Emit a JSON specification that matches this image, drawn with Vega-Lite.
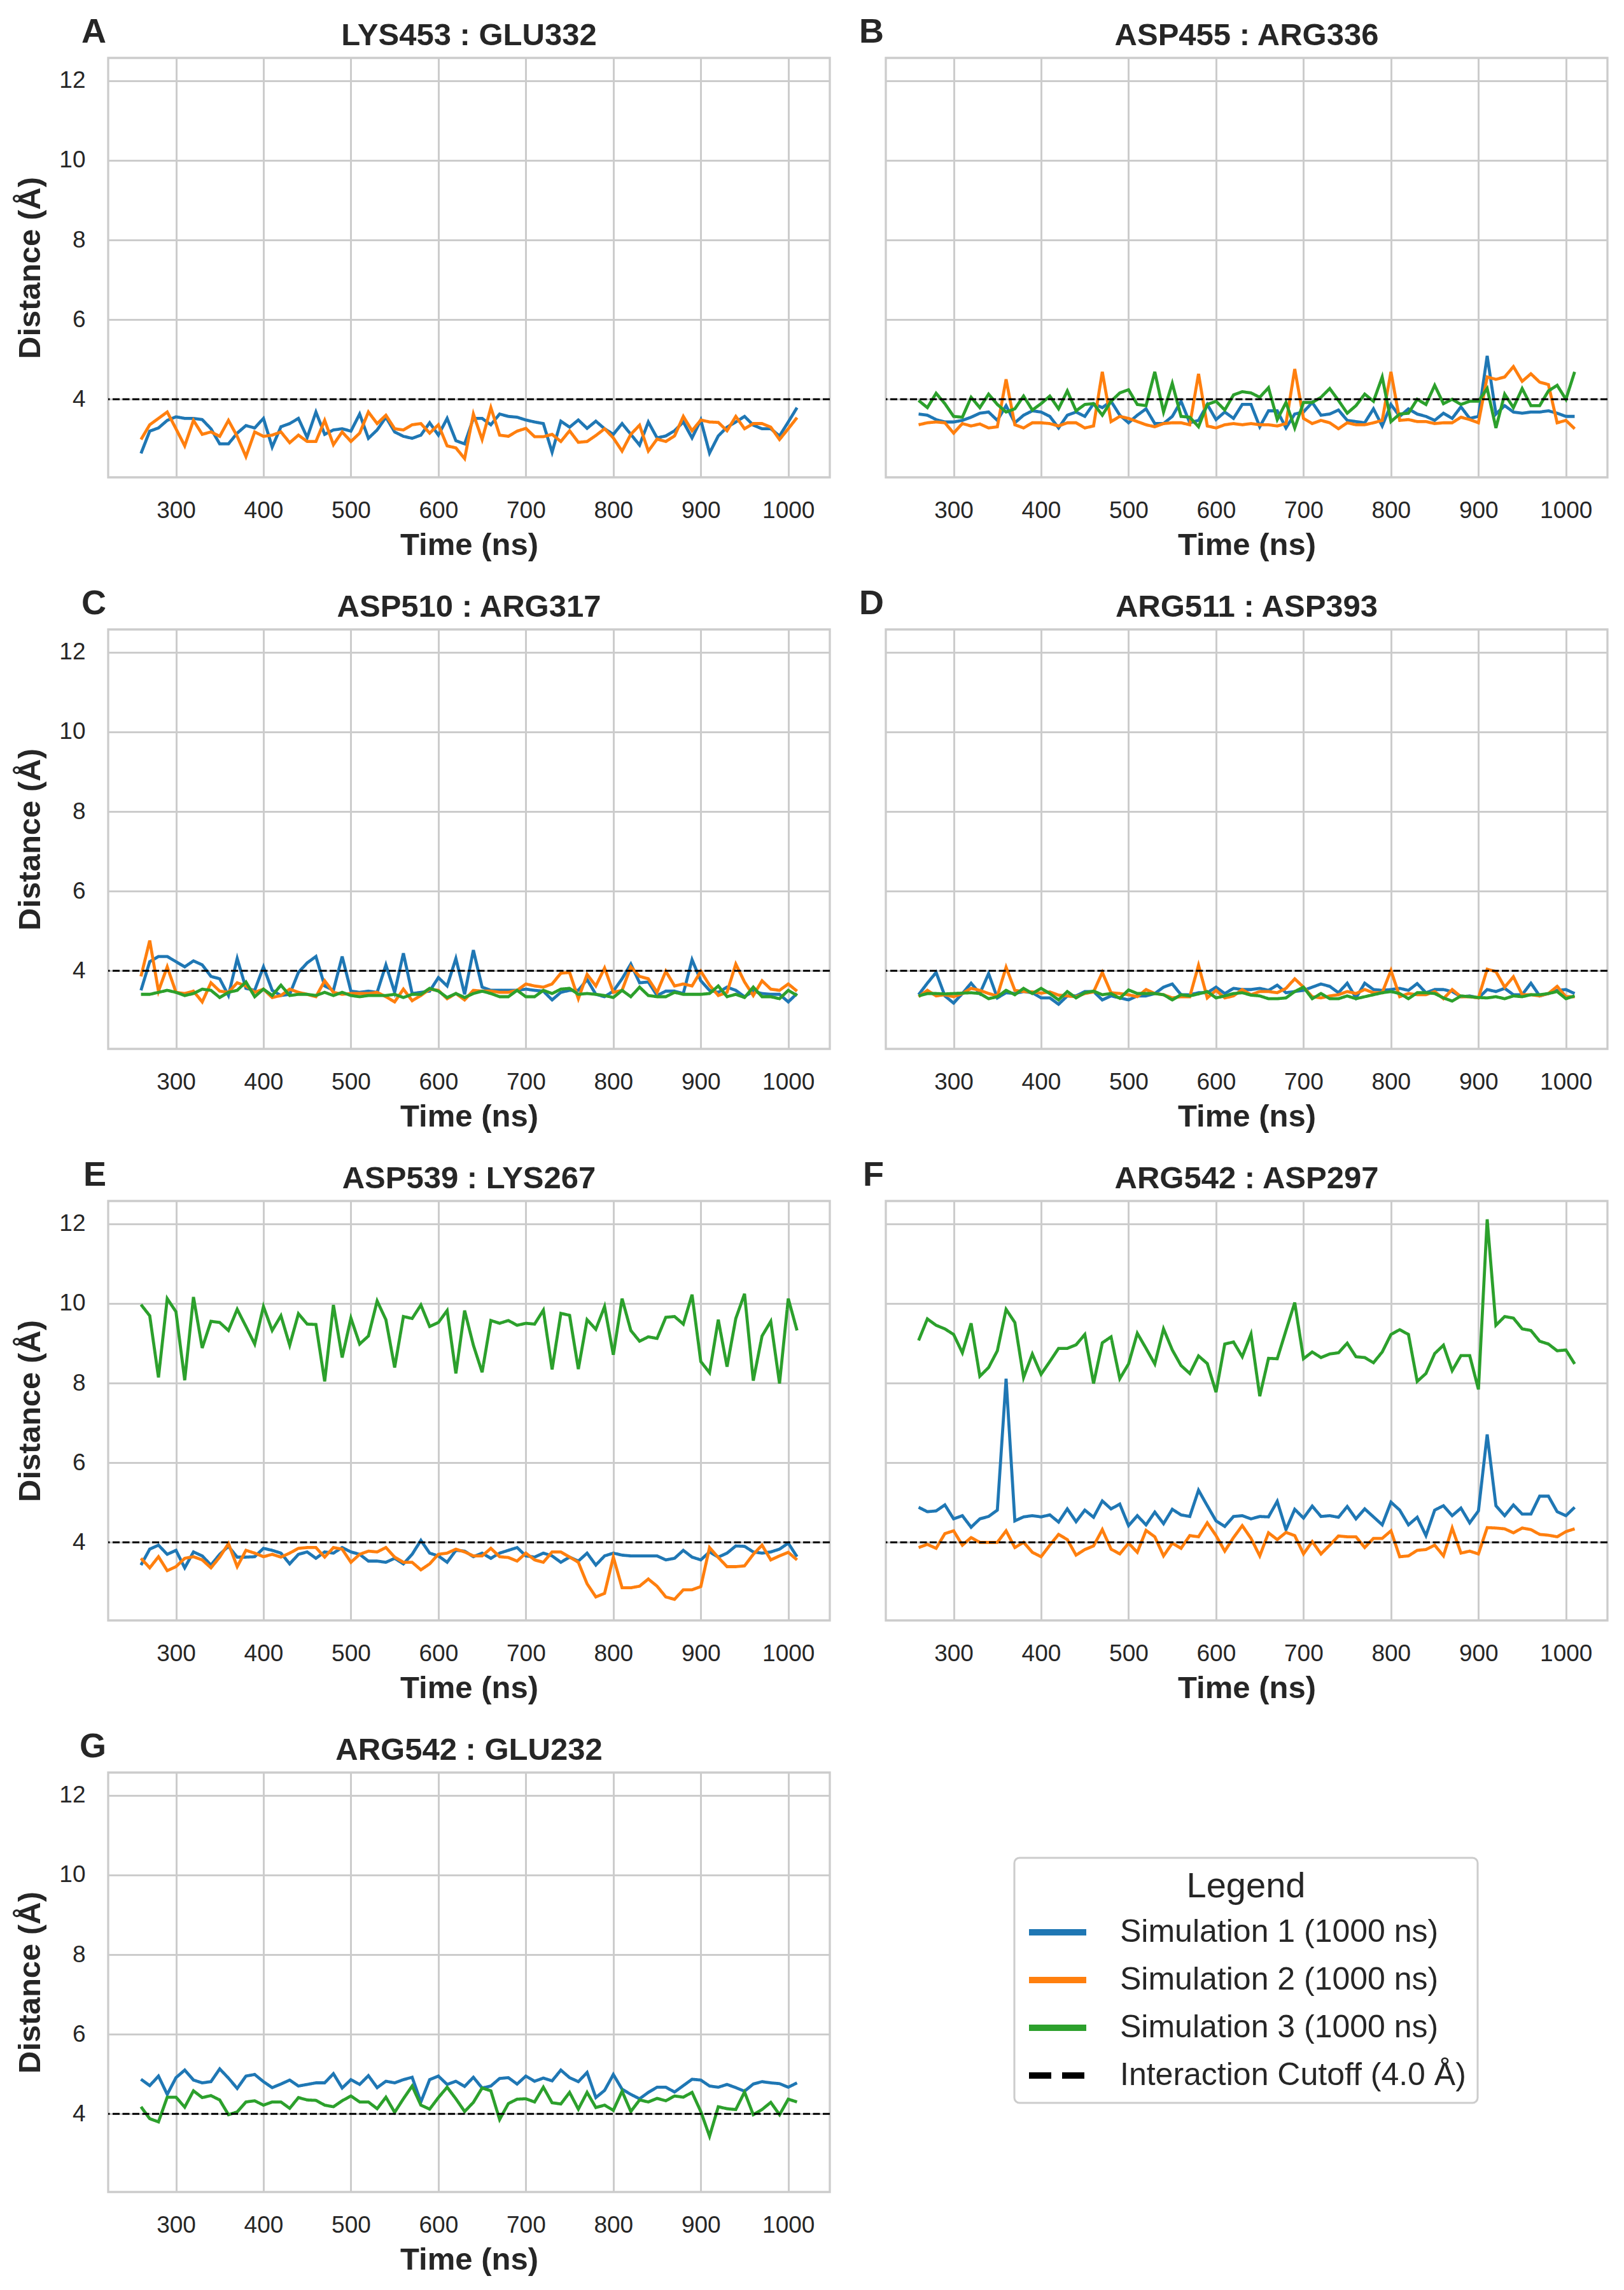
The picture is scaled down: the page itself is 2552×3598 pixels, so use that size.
{
  "$schema": "https://vega.github.io/schema/vega-lite/v6.json",
  "description": "Salt-bridge distances over time for three simulations, seven residue pairs",
  "background": "#ffffff",
  "padding": {"left": 22, "top": 22, "right": 24, "bottom": 0},
  "config": {
    "font": "Liberation Sans",
    "view": {"stroke": "#cccccc", "strokeWidth": 3.3},
    "axis": {
      "gridColor": "#cccccc", "gridWidth": 3, "domain": false, "ticks": false,
      "labelFontSize": 37, "labelColor": "#262626",
      "titleFontSize": 49, "titleFontWeight": "bold", "titleColor": "#262626"
    },
    "axisX": {"labelPadding": 34, "titlePadding": 12},
    "axisY": {"labelPadding": 36, "titlePadding": 20},
    "legend": {
      "orient": "none", "legendX": 1424, "legendY": 2828,
      "titleFontSize": 56, "titleFontWeight": "normal", "titleColor": "#262626",
      "titleAnchor": "middle", "titlePadding": -7, "titleLimit": 1000,
      "labelFontSize": 50, "labelColor": "#262626", "labelOffset": 48, "labelLimit": 1000,
      "symbolType": "stroke", "symbolSize": 8100, "symbolStrokeWidth": 10,
      "rowPadding": 0, "padding": 18,
      "fillColor": "#ffffff", "strokeColor": "#cccccc", "strokeWidth": 3, "cornerRadius": 8
    }
  },
  "data": {"values": [
    {"p":"A","t":260,"a":2.64,"b":2.99},{"p":"A","t":270,"a":3.20,"b":3.36},{"p":"A","t":280,"a":3.28,"b":3.52},{"p":"A","t":290,"a":3.47,"b":3.68},{"p":"A","t":300,"a":3.56,"b":3.26},
    {"p":"A","t":310,"a":3.52,"b":2.83},{"p":"A","t":320,"a":3.52,"b":3.47},{"p":"A","t":330,"a":3.49,"b":3.12},{"p":"A","t":340,"a":3.26,"b":3.18},{"p":"A","t":350,"a":2.88,"b":3.07},
    {"p":"A","t":360,"a":2.88,"b":3.47},{"p":"A","t":370,"a":3.15,"b":3.07},{"p":"A","t":380,"a":3.34,"b":2.56},{"p":"A","t":390,"a":3.28,"b":3.18},{"p":"A","t":400,"a":3.52,"b":3.07},
    {"p":"A","t":410,"a":2.80,"b":3.10},{"p":"A","t":420,"a":3.31,"b":3.18},{"p":"A","t":430,"a":3.39,"b":2.91},{"p":"A","t":440,"a":3.52,"b":3.10},{"p":"A","t":450,"a":3.04,"b":2.94},
    {"p":"A","t":460,"a":3.68,"b":2.94},{"p":"A","t":470,"a":3.12,"b":3.47},{"p":"A","t":480,"a":3.23,"b":2.86},{"p":"A","t":490,"a":3.26,"b":3.18},{"p":"A","t":500,"a":3.20,"b":2.94},
    {"p":"A","t":510,"a":3.63,"b":3.15},{"p":"A","t":520,"a":3.02,"b":3.68},{"p":"A","t":530,"a":3.23,"b":3.39},{"p":"A","t":540,"a":3.55,"b":3.60},{"p":"A","t":550,"a":3.18,"b":3.26},
    {"p":"A","t":560,"a":3.07,"b":3.23},{"p":"A","t":570,"a":3.02,"b":3.36},{"p":"A","t":580,"a":3.10,"b":3.39},{"p":"A","t":590,"a":3.41,"b":3.15},{"p":"A","t":600,"a":3.10,"b":3.36},
    {"p":"A","t":610,"a":3.52,"b":2.83},{"p":"A","t":620,"a":2.96,"b":2.78},{"p":"A","t":630,"a":2.88,"b":2.51},{"p":"A","t":640,"a":3.52,"b":3.63},{"p":"A","t":650,"a":3.52,"b":2.99},
    {"p":"A","t":660,"a":3.36,"b":3.79},{"p":"A","t":670,"a":3.63,"b":3.10},{"p":"A","t":680,"a":3.57,"b":3.07},{"p":"A","t":690,"a":3.55,"b":3.20},{"p":"A","t":700,"a":3.48,"b":3.27},
    {"p":"A","t":710,"a":3.43,"b":3.06},{"p":"A","t":720,"a":3.39,"b":3.06},{"p":"A","t":730,"a":2.67,"b":3.12},{"p":"A","t":740,"a":3.45,"b":2.94},{"p":"A","t":750,"a":3.30,"b":3.21},
    {"p":"A","t":760,"a":3.48,"b":2.92},{"p":"A","t":770,"a":3.27,"b":2.94},{"p":"A","t":780,"a":3.45,"b":3.09},{"p":"A","t":790,"a":3.26,"b":3.26},{"p":"A","t":800,"a":3.12,"b":3.03},
    {"p":"A","t":810,"a":3.39,"b":2.70},{"p":"A","t":820,"a":3.12,"b":3.12},{"p":"A","t":830,"a":2.85,"b":3.35},{"p":"A","t":840,"a":3.43,"b":2.70},{"p":"A","t":850,"a":3.03,"b":3.00},
    {"p":"A","t":860,"a":3.08,"b":2.94},{"p":"A","t":870,"a":3.21,"b":3.08},{"p":"A","t":880,"a":3.43,"b":3.57},{"p":"A","t":890,"a":3.03,"b":3.21},{"p":"A","t":900,"a":3.48,"b":3.48},
    {"p":"A","t":910,"a":2.65,"b":3.43},{"p":"A","t":920,"a":3.08,"b":3.42},{"p":"A","t":930,"a":3.30,"b":3.21},{"p":"A","t":940,"a":3.43,"b":3.57},{"p":"A","t":950,"a":3.57,"b":3.26},
    {"p":"A","t":960,"a":3.35,"b":3.39},{"p":"A","t":970,"a":3.26,"b":3.39},{"p":"A","t":980,"a":3.26,"b":3.30},{"p":"A","t":990,"a":3.08,"b":2.99},{"p":"A","t":1000,"a":3.43,"b":3.26},
    {"p":"A","t":1010,"a":3.79,"b":3.54},

    {"p":"B","t":260,"a":3.63,"b":3.36,"c":3.97},{"p":"B","t":270,"a":3.60,"b":3.41,"c":3.79},{"p":"B","t":280,"a":3.49,"b":3.43,"c":4.15},{"p":"B","t":290,"a":3.43,"b":3.41,"c":3.89},{"p":"B","t":300,"a":3.43,"b":3.15,"c":3.57},
    {"p":"B","t":310,"a":3.47,"b":3.39,"c":3.55},{"p":"B","t":320,"a":3.55,"b":3.33,"c":4.05},{"p":"B","t":330,"a":3.65,"b":3.38,"c":3.79},{"p":"B","t":340,"a":3.68,"b":3.28,"c":4.13},{"p":"B","t":350,"a":3.47,"b":3.31,"c":3.87},
    {"p":"B","t":360,"a":3.84,"b":4.50,"c":3.68},{"p":"B","t":370,"a":3.41,"b":3.36,"c":3.76},{"p":"B","t":380,"a":3.60,"b":3.28,"c":4.08},{"p":"B","t":390,"a":3.71,"b":3.41,"c":3.73},{"p":"B","t":400,"a":3.68,"b":3.41,"c":3.89},
    {"p":"B","t":410,"a":3.57,"b":3.39,"c":4.08},{"p":"B","t":420,"a":3.28,"b":3.33,"c":3.76},{"p":"B","t":430,"a":3.60,"b":3.41,"c":4.21},{"p":"B","t":440,"a":3.68,"b":3.41,"c":3.71},{"p":"B","t":450,"a":3.57,"b":3.28,"c":3.87},
    {"p":"B","t":460,"a":3.89,"b":3.33,"c":3.89},{"p":"B","t":470,"a":3.79,"b":4.69,"c":3.60},{"p":"B","t":480,"a":3.95,"b":3.44,"c":3.95},{"p":"B","t":490,"a":3.60,"b":3.57,"c":4.16},{"p":"B","t":500,"a":3.41,"b":3.52,"c":4.24},
    {"p":"B","t":510,"a":3.60,"b":3.44,"c":3.87},{"p":"B","t":520,"a":3.76,"b":3.36,"c":3.84},{"p":"B","t":530,"a":3.39,"b":3.31,"c":4.69},{"p":"B","t":540,"a":3.39,"b":3.39,"c":3.68},{"p":"B","t":550,"a":3.57,"b":3.41,"c":4.40},
    {"p":"B","t":560,"a":3.95,"b":3.41,"c":3.57},{"p":"B","t":570,"a":3.41,"b":3.36,"c":3.55},{"p":"B","t":580,"a":3.47,"b":4.64,"c":3.31},{"p":"B","t":590,"a":3.87,"b":3.33,"c":3.87},{"p":"B","t":600,"a":3.49,"b":3.28,"c":3.95},
    {"p":"B","t":610,"a":3.68,"b":3.36,"c":3.73},{"p":"B","t":620,"a":3.52,"b":3.39,"c":4.11},{"p":"B","t":630,"a":3.87,"b":3.36,"c":4.19},{"p":"B","t":640,"a":3.87,"b":3.39,"c":4.16},{"p":"B","t":650,"a":3.31,"b":3.36,"c":4.05},
    {"p":"B","t":660,"a":3.71,"b":3.36,"c":4.29},{"p":"B","t":670,"a":3.71,"b":3.33,"c":3.49},{"p":"B","t":680,"a":3.28,"b":3.39,"c":3.92},{"p":"B","t":690,"a":3.63,"b":4.76,"c":3.28},{"p":"B","t":700,"a":3.68,"b":3.52,"c":3.92},
    {"p":"B","t":710,"a":3.92,"b":3.39,"c":3.92},{"p":"B","t":720,"a":3.60,"b":3.47,"c":4.05},{"p":"B","t":730,"a":3.63,"b":3.41,"c":4.27},{"p":"B","t":740,"a":3.73,"b":3.26,"c":3.97},{"p":"B","t":750,"a":3.47,"b":3.41,"c":3.65},
    {"p":"B","t":760,"a":3.44,"b":3.36,"c":3.84},{"p":"B","t":770,"a":3.41,"b":3.36,"c":4.13},{"p":"B","t":780,"a":3.76,"b":3.41,"c":3.95},{"p":"B","t":790,"a":3.33,"b":3.47,"c":4.56},{"p":"B","t":800,"a":3.87,"b":4.69,"c":3.44},
    {"p":"B","t":810,"a":3.57,"b":3.47,"c":3.63},{"p":"B","t":820,"a":3.76,"b":3.49,"c":3.65},{"p":"B","t":830,"a":3.63,"b":3.44,"c":4.00},{"p":"B","t":840,"a":3.57,"b":3.44,"c":3.87},{"p":"B","t":850,"a":3.47,"b":3.39,"c":4.35},
    {"p":"B","t":860,"a":3.65,"b":3.41,"c":3.89},{"p":"B","t":870,"a":3.52,"b":3.41,"c":4.00},{"p":"B","t":880,"a":3.81,"b":3.55,"c":3.87},{"p":"B","t":890,"a":3.52,"b":3.49,"c":3.95},{"p":"B","t":900,"a":3.57,"b":3.41,"c":3.95},
    {"p":"B","t":910,"a":5.09,"b":4.56,"c":4.27},{"p":"B","t":920,"a":3.63,"b":4.50,"c":3.28},{"p":"B","t":930,"a":3.84,"b":4.56,"c":4.13},{"p":"B","t":940,"a":3.68,"b":4.82,"c":3.79},{"p":"B","t":950,"a":3.65,"b":4.45,"c":4.27},
    {"p":"B","t":960,"a":3.68,"b":4.64,"c":3.84},{"p":"B","t":970,"a":3.68,"b":4.43,"c":3.84},{"p":"B","t":980,"a":3.71,"b":4.37,"c":4.21},{"p":"B","t":990,"a":3.65,"b":3.41,"c":4.35},{"p":"B","t":1000,"a":3.57,"b":3.47,"c":4.00},
    {"p":"B","t":1010,"a":3.57,"b":3.26,"c":4.69},

    {"p":"C","t":260,"a":3.51,"b":3.86,"c":3.41},{"p":"C","t":270,"a":4.23,"b":4.76,"c":3.41},{"p":"C","t":280,"a":4.36,"b":3.49,"c":3.46},{"p":"C","t":290,"a":4.36,"b":4.10,"c":3.51},{"p":"C","t":300,"a":4.23,"b":3.46,"c":3.46},
    {"p":"C","t":310,"a":4.10,"b":3.43,"c":3.38},{"p":"C","t":320,"a":4.25,"b":3.49,"c":3.43},{"p":"C","t":330,"a":4.15,"b":3.22,"c":3.54},{"p":"C","t":340,"a":3.86,"b":3.70,"c":3.51},{"p":"C","t":350,"a":3.80,"b":3.49,"c":3.33},
    {"p":"C","t":360,"a":3.38,"b":3.46,"c":3.46},{"p":"C","t":370,"a":4.31,"b":3.70,"c":3.51},{"p":"C","t":380,"a":3.56,"b":3.62,"c":3.72},{"p":"C","t":390,"a":3.51,"b":3.46,"c":3.35},{"p":"C","t":400,"a":4.10,"b":3.54,"c":3.54},
    {"p":"C","t":410,"a":3.51,"b":3.33,"c":3.38},{"p":"C","t":420,"a":3.38,"b":3.38,"c":3.64},{"p":"C","t":430,"a":3.41,"b":3.54,"c":3.38},{"p":"C","t":440,"a":3.96,"b":3.46,"c":3.41},{"p":"C","t":450,"a":4.20,"b":3.41,"c":3.41},
    {"p":"C","t":460,"a":4.36,"b":3.35,"c":3.38},{"p":"C","t":470,"a":3.62,"b":3.75,"c":3.46},{"p":"C","t":480,"a":3.51,"b":3.46,"c":3.38},{"p":"C","t":490,"a":4.36,"b":3.41,"c":3.46},{"p":"C","t":500,"a":3.49,"b":3.43,"c":3.38},
    {"p":"C","t":510,"a":3.46,"b":3.43,"c":3.35},{"p":"C","t":520,"a":3.49,"b":3.43,"c":3.38},{"p":"C","t":530,"a":3.46,"b":3.46,"c":3.38},{"p":"C","t":540,"a":4.15,"b":3.35,"c":3.38},{"p":"C","t":550,"a":3.46,"b":3.22,"c":3.41},
    {"p":"C","t":560,"a":4.44,"b":3.54,"c":3.33},{"p":"C","t":570,"a":3.43,"b":3.25,"c":3.41},{"p":"C","t":580,"a":3.46,"b":3.38,"c":3.41},{"p":"C","t":590,"a":3.49,"b":3.54,"c":3.56},{"p":"C","t":600,"a":3.83,"b":3.51,"c":3.49},
    {"p":"C","t":610,"a":3.62,"b":3.30,"c":3.33},{"p":"C","t":620,"a":4.31,"b":3.43,"c":3.43},{"p":"C","t":630,"a":3.41,"b":3.27,"c":3.33},{"p":"C","t":640,"a":4.52,"b":3.51,"c":3.43},{"p":"C","t":650,"a":3.59,"b":3.49,"c":3.49},
    {"p":"C","t":660,"a":3.51,"b":3.49,"c":3.43},{"p":"C","t":670,"a":3.51,"b":3.46,"c":3.35},{"p":"C","t":680,"a":3.51,"b":3.46,"c":3.35},{"p":"C","t":690,"a":3.51,"b":3.51,"c":3.51},{"p":"C","t":700,"a":3.54,"b":3.67,"c":3.35},
    {"p":"C","t":710,"a":3.51,"b":3.62,"c":3.35},{"p":"C","t":720,"a":3.49,"b":3.59,"c":3.51},{"p":"C","t":730,"a":3.27,"b":3.67,"c":3.43},{"p":"C","t":740,"a":3.46,"b":3.94,"c":3.54},{"p":"C","t":750,"a":3.51,"b":3.96,"c":3.56},
    {"p":"C","t":760,"a":3.51,"b":3.30,"c":3.41},{"p":"C","t":770,"a":3.78,"b":3.91,"c":3.43},{"p":"C","t":780,"a":3.41,"b":3.62,"c":3.41},{"p":"C","t":790,"a":3.35,"b":4.07,"c":3.38},{"p":"C","t":800,"a":3.49,"b":3.46,"c":3.33},
    {"p":"C","t":810,"a":3.80,"b":3.51,"c":3.51},{"p":"C","t":820,"a":4.17,"b":4.10,"c":3.35},{"p":"C","t":830,"a":3.70,"b":3.86,"c":3.59},{"p":"C","t":840,"a":3.72,"b":3.80,"c":3.38},{"p":"C","t":850,"a":3.38,"b":3.46,"c":3.35},
    {"p":"C","t":860,"a":3.49,"b":3.99,"c":3.35},{"p":"C","t":870,"a":3.49,"b":3.62,"c":3.46},{"p":"C","t":880,"a":3.43,"b":3.67,"c":3.41},{"p":"C","t":890,"a":4.28,"b":3.62,"c":3.41},{"p":"C","t":900,"a":3.75,"b":3.99,"c":3.41},
    {"p":"C","t":910,"a":3.51,"b":3.64,"c":3.43},{"p":"C","t":920,"a":3.46,"b":3.38,"c":3.62},{"p":"C","t":930,"a":3.59,"b":3.46,"c":3.35},{"p":"C","t":940,"a":3.51,"b":4.17,"c":3.41},{"p":"C","t":950,"a":3.35,"b":3.72,"c":3.33},
    {"p":"C","t":960,"a":3.49,"b":3.38,"c":3.59},{"p":"C","t":970,"a":3.43,"b":3.75,"c":3.35},{"p":"C","t":980,"a":3.41,"b":3.54,"c":3.35},{"p":"C","t":990,"a":3.41,"b":3.51,"c":3.30},{"p":"C","t":1000,"a":3.22,"b":3.67,"c":3.51},
    {"p":"C","t":1010,"a":3.43,"b":3.49,"c":3.38},

    {"p":"D","t":260,"a":3.40,"b":3.35,"c":3.37},{"p":"D","t":270,"a":3.69,"b":3.51,"c":3.43},{"p":"D","t":280,"a":3.96,"b":3.37,"c":3.43},{"p":"D","t":290,"a":3.37,"b":3.40,"c":3.42},{"p":"D","t":300,"a":3.19,"b":3.35,"c":3.43},
    {"p":"D","t":310,"a":3.43,"b":3.43,"c":3.44},{"p":"D","t":320,"a":3.69,"b":3.56,"c":3.45},{"p":"D","t":330,"a":3.43,"b":3.51,"c":3.43},{"p":"D","t":340,"a":3.93,"b":3.43,"c":3.30},{"p":"D","t":350,"a":3.32,"b":3.37,"c":3.35},
    {"p":"D","t":360,"a":3.45,"b":4.09,"c":3.51},{"p":"D","t":370,"a":3.43,"b":3.51,"c":3.40},{"p":"D","t":380,"a":3.48,"b":3.48,"c":3.56},{"p":"D","t":390,"a":3.45,"b":3.47,"c":3.43},{"p":"D","t":400,"a":3.32,"b":3.44,"c":3.56},
    {"p":"D","t":410,"a":3.32,"b":3.47,"c":3.43},{"p":"D","t":420,"a":3.16,"b":3.39,"c":3.27},{"p":"D","t":430,"a":3.37,"b":3.37,"c":3.48},{"p":"D","t":440,"a":3.37,"b":3.35,"c":3.32},{"p":"D","t":450,"a":3.48,"b":3.43,"c":3.45},
    {"p":"D","t":460,"a":3.48,"b":3.47,"c":3.49},{"p":"D","t":470,"a":3.27,"b":3.96,"c":3.40},{"p":"D","t":480,"a":3.37,"b":3.45,"c":3.43},{"p":"D","t":490,"a":3.32,"b":3.43,"c":3.31},{"p":"D","t":500,"a":3.27,"b":3.40,"c":3.52},
    {"p":"D","t":510,"a":3.37,"b":3.35,"c":3.43},{"p":"D","t":520,"a":3.37,"b":3.53,"c":3.43},{"p":"D","t":530,"a":3.43,"b":3.43,"c":3.43},{"p":"D","t":540,"a":3.59,"b":3.40,"c":3.40},{"p":"D","t":550,"a":3.67,"b":3.32,"c":3.27},
    {"p":"D","t":560,"a":3.40,"b":3.35,"c":3.40},{"p":"D","t":570,"a":3.40,"b":3.35,"c":3.37},{"p":"D","t":580,"a":3.45,"b":4.14,"c":3.42},{"p":"D","t":590,"a":3.45,"b":3.32,"c":3.48},{"p":"D","t":600,"a":3.59,"b":3.51,"c":3.32},
    {"p":"D","t":610,"a":3.43,"b":3.32,"c":3.37},{"p":"D","t":620,"a":3.56,"b":3.37,"c":3.43},{"p":"D","t":630,"a":3.53,"b":3.53,"c":3.45},{"p":"D","t":640,"a":3.53,"b":3.40,"c":3.39},{"p":"D","t":650,"a":3.56,"b":3.48,"c":3.37},
    {"p":"D","t":660,"a":3.51,"b":3.48,"c":3.30},{"p":"D","t":670,"a":3.64,"b":3.45,"c":3.30},{"p":"D","t":680,"a":3.45,"b":3.56,"c":3.32},{"p":"D","t":690,"a":3.48,"b":3.80,"c":3.48},{"p":"D","t":700,"a":3.51,"b":3.59,"c":3.59},
    {"p":"D","t":710,"a":3.59,"b":3.35,"c":3.30},{"p":"D","t":720,"a":3.67,"b":3.32,"c":3.43},{"p":"D","t":730,"a":3.61,"b":3.37,"c":3.30},{"p":"D","t":740,"a":3.45,"b":3.40,"c":3.30},{"p":"D","t":750,"a":3.69,"b":3.48,"c":3.37},
    {"p":"D","t":760,"a":3.32,"b":3.43,"c":3.30},{"p":"D","t":770,"a":3.69,"b":3.53,"c":3.35},{"p":"D","t":780,"a":3.53,"b":3.45,"c":3.40},{"p":"D","t":790,"a":3.51,"b":3.45,"c":3.45},{"p":"D","t":800,"a":3.53,"b":4.01,"c":3.48},
    {"p":"D","t":810,"a":3.56,"b":3.35,"c":3.43},{"p":"D","t":820,"a":3.51,"b":3.43,"c":3.30},{"p":"D","t":830,"a":3.68,"b":3.40,"c":3.45},{"p":"D","t":840,"a":3.45,"b":3.40,"c":3.45},{"p":"D","t":850,"a":3.53,"b":3.48,"c":3.43},
    {"p":"D","t":860,"a":3.53,"b":3.30,"c":3.32},{"p":"D","t":870,"a":3.48,"b":3.53,"c":3.24},{"p":"D","t":880,"a":3.35,"b":3.35,"c":3.37},{"p":"D","t":890,"a":3.37,"b":3.35,"c":3.35},{"p":"D","t":900,"a":3.32,"b":3.32,"c":3.33},
    {"p":"D","t":910,"a":3.53,"b":4.04,"c":3.32},{"p":"D","t":920,"a":3.48,"b":3.98,"c":3.35},{"p":"D","t":930,"a":3.56,"b":3.59,"c":3.30},{"p":"D","t":940,"a":3.40,"b":3.85,"c":3.37},{"p":"D","t":950,"a":3.40,"b":3.40,"c":3.35},
    {"p":"D","t":960,"a":3.69,"b":3.40,"c":3.40},{"p":"D","t":970,"a":3.37,"b":3.37,"c":3.40},{"p":"D","t":980,"a":3.43,"b":3.43,"c":3.43},{"p":"D","t":990,"a":3.51,"b":3.61,"c":3.48},{"p":"D","t":1000,"a":3.53,"b":3.35,"c":3.30},
    {"p":"D","t":1010,"a":3.43,"b":3.35,"c":3.37},

    {"p":"E","t":260,"a":3.43,"b":3.60,"c":9.97},{"p":"E","t":270,"a":3.83,"b":3.36,"c":9.69},{"p":"E","t":280,"a":3.93,"b":3.64,"c":8.14},{"p":"E","t":290,"a":3.70,"b":3.29,"c":10.12},{"p":"E","t":300,"a":3.80,"b":3.39,"c":9.79},
    {"p":"E","t":310,"a":3.36,"b":3.60,"c":8.07},{"p":"E","t":320,"a":3.76,"b":3.64,"c":10.16},{"p":"E","t":330,"a":3.66,"b":3.56,"c":8.88},{"p":"E","t":340,"a":3.43,"b":3.36,"c":9.55},{"p":"E","t":350,"a":3.70,"b":3.63,"c":9.52},
    {"p":"E","t":360,"a":3.90,"b":3.97,"c":9.32},{"p":"E","t":370,"a":3.63,"b":3.39,"c":9.85},{"p":"E","t":380,"a":3.63,"b":3.80,"c":9.42},{"p":"E","t":390,"a":3.64,"b":3.73,"c":8.98},{"p":"E","t":400,"a":3.85,"b":3.64,"c":9.92},
    {"p":"E","t":410,"a":3.80,"b":3.70,"c":9.32},{"p":"E","t":420,"a":3.73,"b":3.63,"c":9.69},{"p":"E","t":430,"a":3.46,"b":3.73,"c":8.95},{"p":"E","t":440,"a":3.70,"b":3.85,"c":9.74},{"p":"E","t":450,"a":3.76,"b":3.87,"c":9.48},
    {"p":"E","t":460,"a":3.60,"b":3.87,"c":9.47},{"p":"E","t":470,"a":3.76,"b":3.63,"c":8.04},{"p":"E","t":480,"a":3.73,"b":3.87,"c":9.96},{"p":"E","t":490,"a":3.87,"b":3.83,"c":8.64},{"p":"E","t":500,"a":3.76,"b":3.50,"c":9.63},
    {"p":"E","t":510,"a":3.70,"b":3.70,"c":8.98},{"p":"E","t":520,"a":3.53,"b":3.78,"c":9.18},{"p":"E","t":530,"a":3.53,"b":3.76,"c":10.06},{"p":"E","t":540,"a":3.50,"b":3.87,"c":9.59},{"p":"E","t":550,"a":3.60,"b":3.63,"c":8.39},
    {"p":"E","t":560,"a":3.46,"b":3.50,"c":9.67},{"p":"E","t":570,"a":3.70,"b":3.50,"c":9.62},{"p":"E","t":580,"a":4.05,"b":3.31,"c":9.96},{"p":"E","t":590,"a":3.73,"b":3.46,"c":9.42},{"p":"E","t":600,"a":3.66,"b":3.70,"c":9.52},
    {"p":"E","t":610,"a":3.50,"b":3.73,"c":9.82},{"p":"E","t":620,"a":3.80,"b":3.83,"c":8.24},{"p":"E","t":630,"a":3.78,"b":3.76,"c":9.82},{"p":"E","t":640,"a":3.64,"b":3.66,"c":8.95},{"p":"E","t":650,"a":3.73,"b":3.66,"c":8.27},
    {"p":"E","t":660,"a":3.60,"b":3.85,"c":9.57},{"p":"E","t":670,"a":3.73,"b":3.64,"c":9.50},{"p":"E","t":680,"a":3.80,"b":3.62,"c":9.57},{"p":"E","t":690,"a":3.87,"b":3.53,"c":9.45},{"p":"E","t":700,"a":3.66,"b":3.73,"c":9.50},
    {"p":"E","t":710,"a":3.63,"b":3.56,"c":9.48},{"p":"E","t":720,"a":3.73,"b":3.50,"c":9.83},{"p":"E","t":730,"a":3.66,"b":3.76,"c":8.34},{"p":"E","t":740,"a":3.50,"b":3.76,"c":9.75},{"p":"E","t":750,"a":3.63,"b":3.63,"c":9.70},
    {"p":"E","t":760,"a":3.53,"b":3.50,"c":8.35},{"p":"E","t":770,"a":3.73,"b":2.96,"c":9.59},{"p":"E","t":780,"a":3.43,"b":2.63,"c":9.35},{"p":"E","t":790,"a":3.66,"b":2.72,"c":9.92},{"p":"E","t":800,"a":3.73,"b":3.63,"c":8.71},
    {"p":"E","t":810,"a":3.68,"b":2.86,"c":10.12},{"p":"E","t":820,"a":3.66,"b":2.86,"c":9.32},{"p":"E","t":830,"a":3.66,"b":2.90,"c":9.05},{"p":"E","t":840,"a":3.66,"b":3.08,"c":9.16},{"p":"E","t":850,"a":3.66,"b":2.90,"c":9.12},
    {"p":"E","t":860,"a":3.56,"b":2.63,"c":9.65},{"p":"E","t":870,"a":3.60,"b":2.57,"c":9.67},{"p":"E","t":880,"a":3.80,"b":2.81,"c":9.48},{"p":"E","t":890,"a":3.63,"b":2.81,"c":10.22},{"p":"E","t":900,"a":3.56,"b":2.89,"c":8.54},
    {"p":"E","t":910,"a":3.76,"b":3.87,"c":8.26},{"p":"E","t":920,"a":3.63,"b":3.62,"c":9.59},{"p":"E","t":930,"a":3.73,"b":3.39,"c":8.41},{"p":"E","t":940,"a":3.91,"b":3.39,"c":9.62},{"p":"E","t":950,"a":3.90,"b":3.41,"c":10.24},
    {"p":"E","t":960,"a":3.76,"b":3.70,"c":8.06},{"p":"E","t":970,"a":3.73,"b":3.93,"c":9.18},{"p":"E","t":980,"a":3.76,"b":3.56,"c":9.55},{"p":"E","t":990,"a":3.83,"b":3.66,"c":7.99},{"p":"E","t":1000,"a":3.98,"b":3.75,"c":10.12},
    {"p":"E","t":1010,"a":3.64,"b":3.56,"c":9.32},

    {"p":"F","t":260,"a":4.88,"b":3.87,"c":9.07},{"p":"F","t":270,"a":4.77,"b":3.95,"c":9.61},{"p":"F","t":280,"a":4.79,"b":3.85,"c":9.45},{"p":"F","t":290,"a":4.94,"b":4.22,"c":9.36},{"p":"F","t":300,"a":4.59,"b":4.29,"c":9.22},
    {"p":"F","t":310,"a":4.67,"b":3.93,"c":8.76},{"p":"F","t":320,"a":4.38,"b":4.12,"c":9.50},{"p":"F","t":330,"a":4.59,"b":4.00,"c":8.17},{"p":"F","t":340,"a":4.65,"b":4.00,"c":8.39},{"p":"F","t":350,"a":4.81,"b":4.00,"c":8.81},
    {"p":"F","t":360,"a":8.11,"b":4.29,"c":9.85},{"p":"F","t":370,"a":4.54,"b":3.87,"c":9.52},{"p":"F","t":380,"a":4.64,"b":4.00,"c":8.14},{"p":"F","t":390,"a":4.67,"b":3.75,"c":8.73},{"p":"F","t":400,"a":4.64,"b":3.64,"c":8.22},
    {"p":"F","t":410,"a":4.69,"b":3.93,"c":8.54},{"p":"F","t":420,"a":4.51,"b":4.20,"c":8.87},{"p":"F","t":430,"a":4.84,"b":4.07,"c":8.87},{"p":"F","t":440,"a":4.52,"b":3.68,"c":8.96},{"p":"F","t":450,"a":4.81,"b":3.82,"c":9.22},
    {"p":"F","t":460,"a":4.63,"b":3.91,"c":7.99},{"p":"F","t":470,"a":5.04,"b":4.32,"c":9.01},{"p":"F","t":480,"a":4.84,"b":3.83,"c":9.16},{"p":"F","t":490,"a":4.96,"b":3.71,"c":8.11},{"p":"F","t":500,"a":4.42,"b":3.98,"c":8.48},
    {"p":"F","t":510,"a":4.67,"b":3.75,"c":9.25},{"p":"F","t":520,"a":4.44,"b":4.30,"c":8.87},{"p":"F","t":530,"a":4.76,"b":4.14,"c":8.48},{"p":"F","t":540,"a":4.47,"b":3.66,"c":9.36},{"p":"F","t":550,"a":4.83,"b":3.98,"c":8.83},
    {"p":"F","t":560,"a":4.69,"b":3.85,"c":8.44},{"p":"F","t":570,"a":4.65,"b":4.17,"c":8.24},{"p":"F","t":580,"a":5.31,"b":4.14,"c":8.68},{"p":"F","t":590,"a":4.92,"b":4.49,"c":8.49},{"p":"F","t":600,"a":4.54,"b":4.17,"c":7.77},
    {"p":"F","t":610,"a":4.40,"b":3.78,"c":8.98},{"p":"F","t":620,"a":4.65,"b":4.12,"c":9.03},{"p":"F","t":630,"a":4.67,"b":4.42,"c":8.66},{"p":"F","t":640,"a":4.59,"b":4.10,"c":9.23},{"p":"F","t":650,"a":4.65,"b":3.66,"c":7.67},
    {"p":"F","t":660,"a":4.64,"b":4.24,"c":8.62},{"p":"F","t":670,"a":5.03,"b":4.07,"c":8.61},{"p":"F","t":680,"a":4.32,"b":4.25,"c":9.32},{"p":"F","t":690,"a":4.83,"b":4.17,"c":10.02},{"p":"F","t":700,"a":4.61,"b":3.71,"c":8.61},
    {"p":"F","t":710,"a":4.91,"b":4.02,"c":8.78},{"p":"F","t":720,"a":4.65,"b":3.71,"c":8.64},{"p":"F","t":730,"a":4.67,"b":3.93,"c":8.73},{"p":"F","t":740,"a":4.63,"b":4.16,"c":8.76},{"p":"F","t":750,"a":4.90,"b":4.14,"c":9.00},
    {"p":"F","t":760,"a":4.59,"b":4.14,"c":8.66},{"p":"F","t":770,"a":4.84,"b":3.87,"c":8.64},{"p":"F","t":780,"a":4.64,"b":4.10,"c":8.51},{"p":"F","t":790,"a":4.44,"b":4.10,"c":8.78},{"p":"F","t":800,"a":5.01,"b":4.29,"c":9.22},
    {"p":"F","t":810,"a":4.81,"b":3.64,"c":9.34},{"p":"F","t":820,"a":4.44,"b":3.66,"c":9.22},{"p":"F","t":830,"a":4.63,"b":3.80,"c":8.04},{"p":"F","t":840,"a":4.17,"b":3.82,"c":8.24},{"p":"F","t":850,"a":4.81,"b":3.93,"c":8.74},
    {"p":"F","t":860,"a":4.92,"b":3.66,"c":8.95},{"p":"F","t":870,"a":4.67,"b":4.36,"c":8.31},{"p":"F","t":880,"a":4.86,"b":3.73,"c":8.69},{"p":"F","t":890,"a":4.49,"b":3.78,"c":8.69},{"p":"F","t":900,"a":4.79,"b":3.71,"c":7.84},
    {"p":"F","t":910,"a":6.71,"b":4.37,"c":12.11},{"p":"F","t":920,"a":4.92,"b":4.36,"c":9.45},{"p":"F","t":930,"a":4.67,"b":4.34,"c":9.67},{"p":"F","t":940,"a":4.94,"b":4.24,"c":9.63},{"p":"F","t":950,"a":4.71,"b":4.36,"c":9.36},
    {"p":"F","t":960,"a":4.71,"b":4.32,"c":9.32},{"p":"F","t":970,"a":5.16,"b":4.20,"c":9.05},{"p":"F","t":980,"a":5.16,"b":4.18,"c":8.98},{"p":"F","t":990,"a":4.77,"b":4.14,"c":8.81},{"p":"F","t":1000,"a":4.67,"b":4.27,"c":8.83},
    {"p":"F","t":1010,"a":4.88,"b":4.34,"c":8.48},

    {"p":"G","t":260,"a":4.87,"c":4.18},{"p":"G","t":270,"a":4.71,"c":3.88},{"p":"G","t":280,"a":4.95,"c":3.80},{"p":"G","t":290,"a":4.49,"c":4.42},{"p":"G","t":300,"a":4.91,"c":4.42},
    {"p":"G","t":310,"a":5.10,"c":4.17},{"p":"G","t":320,"a":4.85,"c":4.58},{"p":"G","t":330,"a":4.78,"c":4.41},{"p":"G","t":340,"a":4.81,"c":4.46},{"p":"G","t":350,"a":5.13,"c":4.35},
    {"p":"G","t":360,"a":4.90,"c":3.98},{"p":"G","t":370,"a":4.64,"c":4.05},{"p":"G","t":380,"a":4.95,"c":4.30},{"p":"G","t":390,"a":4.99,"c":4.33},{"p":"G","t":400,"a":4.81,"c":4.22},
    {"p":"G","t":410,"a":4.66,"c":4.30},{"p":"G","t":420,"a":4.75,"c":4.30},{"p":"G","t":430,"a":4.85,"c":4.14},{"p":"G","t":440,"a":4.70,"c":4.41},{"p":"G","t":450,"a":4.74,"c":4.35},
    {"p":"G","t":460,"a":4.78,"c":4.34},{"p":"G","t":470,"a":4.78,"c":4.22},{"p":"G","t":480,"a":5.01,"c":4.18},{"p":"G","t":490,"a":4.65,"c":4.33},{"p":"G","t":500,"a":4.86,"c":4.45},
    {"p":"G","t":510,"a":4.74,"c":4.30},{"p":"G","t":520,"a":4.96,"c":4.30},{"p":"G","t":530,"a":4.66,"c":4.13},{"p":"G","t":540,"a":4.82,"c":4.42},{"p":"G","t":550,"a":4.78,"c":4.04},
    {"p":"G","t":560,"a":4.86,"c":4.38},{"p":"G","t":570,"a":4.92,"c":4.70},{"p":"G","t":580,"a":4.30,"c":4.22},{"p":"G","t":590,"a":4.86,"c":4.12},{"p":"G","t":600,"a":4.95,"c":4.41},
    {"p":"G","t":610,"a":4.74,"c":4.67},{"p":"G","t":620,"a":4.82,"c":4.38},{"p":"G","t":630,"a":4.69,"c":4.06},{"p":"G","t":640,"a":4.92,"c":4.29},{"p":"G","t":650,"a":4.65,"c":4.65},
    {"p":"G","t":660,"a":4.70,"c":4.58},{"p":"G","t":670,"a":4.89,"c":3.86},{"p":"G","t":680,"a":4.91,"c":4.26},{"p":"G","t":690,"a":4.75,"c":4.37},{"p":"G","t":700,"a":4.95,"c":4.38},
    {"p":"G","t":710,"a":4.82,"c":4.30},{"p":"G","t":720,"a":4.90,"c":4.67},{"p":"G","t":730,"a":4.83,"c":4.28},{"p":"G","t":740,"a":5.10,"c":4.25},{"p":"G","t":750,"a":4.91,"c":4.54},
    {"p":"G","t":760,"a":4.81,"c":4.12},{"p":"G","t":770,"a":5.04,"c":4.54},{"p":"G","t":780,"a":4.41,"c":4.16},{"p":"G","t":790,"a":4.59,"c":4.22},{"p":"G","t":800,"a":4.99,"c":4.09},
    {"p":"G","t":810,"a":4.62,"c":4.57},{"p":"G","t":820,"a":4.49,"c":4.06},{"p":"G","t":830,"a":4.38,"c":4.35},{"p":"G","t":840,"a":4.54,"c":4.30},{"p":"G","t":850,"a":4.67,"c":4.39},
    {"p":"G","t":860,"a":4.67,"c":4.33},{"p":"G","t":870,"a":4.55,"c":4.45},{"p":"G","t":880,"a":4.71,"c":4.42},{"p":"G","t":890,"a":4.87,"c":4.54},{"p":"G","t":900,"a":4.85,"c":4.06},
    {"p":"G","t":910,"a":4.70,"c":3.44},{"p":"G","t":920,"a":4.67,"c":4.18},{"p":"G","t":930,"a":4.74,"c":4.13},{"p":"G","t":940,"a":4.66,"c":4.11},{"p":"G","t":950,"a":4.57,"c":4.55},
    {"p":"G","t":960,"a":4.75,"c":3.98},{"p":"G","t":970,"a":4.81,"c":4.11},{"p":"G","t":980,"a":4.78,"c":4.29},{"p":"G","t":990,"a":4.76,"c":3.98},{"p":"G","t":1000,"a":4.67,"c":4.37},
    {"p":"G","t":1010,"a":4.78,"c":4.30}
  ]},
  "transform": [
    {"fold": ["a", "b", "c"], "as": ["k", "d"]},
    {"lookup": "k", "from": {"data": {"values": [
      {"k": "a", "lab": "Simulation 1 (1000 ns)"},
      {"k": "b", "lab": "Simulation 2 (1000 ns)"},
      {"k": "c", "lab": "Simulation 3 (1000 ns)"}
    ]}, "key": "k", "fields": ["lab"]}}
  ],
  "columns": 2,
  "spacing": {"row": 239, "column": 88},
  "bounds": "flush",
  "concat": [
    {
      "width": 1134, "height": 659,
      "layer": [
        {
          "transform": [{"filter": "datum.p == 'A'"}],
          "mark": "line",
          "encoding": {
            "x": {"field": "t", "type": "quantitative", "title": "Time (ns)", "scale": {"domain": [222.5, 1047.5], "nice": false, "zero": false}, "axis": {"values": [300, 400, 500, 600, 700, 800, 900, 1000], "format": "d"}},
            "y": {"field": "d", "type": "quantitative", "title": "Distance (Å)", "scale": {"domain": [2.04, 12.57], "nice": false, "zero": false}, "axis": {"values": [4, 6, 8, 10, 12], "format": "d"}},
            "color": {
              "field": "lab", "type": "nominal", "title": "Legend",
              "scale": {"domain": ["Simulation 1 (1000 ns)", "Simulation 2 (1000 ns)", "Simulation 3 (1000 ns)", "Interaction Cutoff (4.0 Å)"], "range": ["#1f77b4", "#ff7f0e", "#2ca02c", "#000000"]}
            },
            "strokeDash": {
              "field": "lab", "type": "nominal", "title": "Legend",
              "scale": {"domain": ["Simulation 1 (1000 ns)", "Simulation 2 (1000 ns)", "Simulation 3 (1000 ns)", "Interaction Cutoff (4.0 Å)"], "range": [[1, 0], [1, 0], [1, 0], [35, 17]]}
            },
            "strokeWidth": {"value": 4.8}
          }
        },
        {
          "data": {"values": [{"lab": "Interaction Cutoff (4.0 Å)", "d": 4}]},
          "mark": "rule",
          "encoding": {
            "y": {"field": "d", "type": "quantitative", "title": "Distance (Å)"},
            "color": {"field": "lab", "type": "nominal", "title": "Legend"},
            "strokeDash": {"value": [11, 4.5]},
            "strokeWidth": {"value": 3}
          }
        },
        {
          "data": {"values": [{"tag": "A", "pair": "LYS453 : GLU332"}]},
          "layer": [
            {"mark": {"type": "text", "fontSize": 54, "fontWeight": "bold", "align": "right", "baseline": "alphabetic", "dx": -3, "dy": -24, "color": "#262626"},
             "encoding": {"x": {"datum": 222.5}, "y": {"datum": 12.57}, "text": {"field": "tag"}}},
            {"mark": {"type": "text", "fontSize": 49, "fontWeight": "bold", "align": "center", "baseline": "alphabetic", "dy": -20, "color": "#262626"},
             "encoding": {"x": {"datum": 635}, "y": {"datum": 12.57}, "text": {"field": "pair"}}}
          ]
        }
      ]
    },
    {
      "width": 1134, "height": 659,
      "layer": [
        {
          "transform": [{"filter": "datum.p == 'B'"}],
          "mark": "line",
          "encoding": {
            "x": {"field": "t", "type": "quantitative", "title": "Time (ns)", "scale": {"domain": [222.5, 1047.5], "nice": false, "zero": false}, "axis": {"values": [300, 400, 500, 600, 700, 800, 900, 1000], "format": "d"}},
            "y": {"field": "d", "type": "quantitative", "scale": {"domain": [2.04, 12.57], "nice": false, "zero": false}, "axis": {"values": [4, 6, 8, 10, 12], "labels": false, "title": null}},
            "color": {"field": "lab", "type": "nominal", "title": "Legend"},
            "strokeDash": {"field": "lab", "type": "nominal", "title": "Legend"},
            "strokeWidth": {"value": 4.8}
          }
        },
        {
          "data": {"values": [{"lab": "Interaction Cutoff (4.0 Å)", "d": 4}]},
          "mark": "rule",
          "encoding": {
            "y": {"field": "d", "type": "quantitative", "axis": {"values": [4, 6, 8, 10, 12], "labels": false, "title": null}},
            "color": {"field": "lab", "type": "nominal", "title": "Legend"},
            "strokeDash": {"value": [11, 4.5]},
            "strokeWidth": {"value": 3}
          }
        },
        {
          "data": {"values": [{"tag": "B", "pair": "ASP455 : ARG336"}]},
          "layer": [
            {"mark": {"type": "text", "fontSize": 54, "fontWeight": "bold", "align": "right", "baseline": "alphabetic", "dx": -3, "dy": -24, "color": "#262626"},
             "encoding": {"x": {"datum": 222.5}, "y": {"datum": 12.57}, "text": {"field": "tag"}}},
            {"mark": {"type": "text", "fontSize": 49, "fontWeight": "bold", "align": "center", "baseline": "alphabetic", "dy": -20, "color": "#262626"},
             "encoding": {"x": {"datum": 635}, "y": {"datum": 12.57}, "text": {"field": "pair"}}}
          ]
        }
      ]
    },
    {
      "width": 1134, "height": 659,
      "layer": [
        {
          "transform": [{"filter": "datum.p == 'C'"}],
          "mark": "line",
          "encoding": {
            "x": {"field": "t", "type": "quantitative", "title": "Time (ns)", "scale": {"domain": [222.5, 1047.5], "nice": false, "zero": false}, "axis": {"values": [300, 400, 500, 600, 700, 800, 900, 1000], "format": "d"}},
            "y": {"field": "d", "type": "quantitative", "title": "Distance (Å)", "scale": {"domain": [2.04, 12.57], "nice": false, "zero": false}, "axis": {"values": [4, 6, 8, 10, 12], "format": "d"}},
            "color": {"field": "lab", "type": "nominal", "title": "Legend"},
            "strokeDash": {"field": "lab", "type": "nominal", "title": "Legend"},
            "strokeWidth": {"value": 4.8}
          }
        },
        {
          "data": {"values": [{"lab": "Interaction Cutoff (4.0 Å)", "d": 4}]},
          "mark": "rule",
          "encoding": {
            "y": {"field": "d", "type": "quantitative", "title": "Distance (Å)"},
            "color": {"field": "lab", "type": "nominal", "title": "Legend"},
            "strokeDash": {"value": [11, 4.5]},
            "strokeWidth": {"value": 3}
          }
        },
        {
          "data": {"values": [{"tag": "C", "pair": "ASP510 : ARG317"}]},
          "layer": [
            {"mark": {"type": "text", "fontSize": 54, "fontWeight": "bold", "align": "right", "baseline": "alphabetic", "dx": -3, "dy": -24, "color": "#262626"},
             "encoding": {"x": {"datum": 222.5}, "y": {"datum": 12.57}, "text": {"field": "tag"}}},
            {"mark": {"type": "text", "fontSize": 49, "fontWeight": "bold", "align": "center", "baseline": "alphabetic", "dy": -20, "color": "#262626"},
             "encoding": {"x": {"datum": 635}, "y": {"datum": 12.57}, "text": {"field": "pair"}}}
          ]
        }
      ]
    },
    {
      "width": 1134, "height": 659,
      "layer": [
        {
          "transform": [{"filter": "datum.p == 'D'"}],
          "mark": "line",
          "encoding": {
            "x": {"field": "t", "type": "quantitative", "title": "Time (ns)", "scale": {"domain": [222.5, 1047.5], "nice": false, "zero": false}, "axis": {"values": [300, 400, 500, 600, 700, 800, 900, 1000], "format": "d"}},
            "y": {"field": "d", "type": "quantitative", "scale": {"domain": [2.04, 12.57], "nice": false, "zero": false}, "axis": {"values": [4, 6, 8, 10, 12], "labels": false, "title": null}},
            "color": {"field": "lab", "type": "nominal", "title": "Legend"},
            "strokeDash": {"field": "lab", "type": "nominal", "title": "Legend"},
            "strokeWidth": {"value": 4.8}
          }
        },
        {
          "data": {"values": [{"lab": "Interaction Cutoff (4.0 Å)", "d": 4}]},
          "mark": "rule",
          "encoding": {
            "y": {"field": "d", "type": "quantitative", "axis": {"values": [4, 6, 8, 10, 12], "labels": false, "title": null}},
            "color": {"field": "lab", "type": "nominal", "title": "Legend"},
            "strokeDash": {"value": [11, 4.5]},
            "strokeWidth": {"value": 3}
          }
        },
        {
          "data": {"values": [{"tag": "D", "pair": "ARG511 : ASP393"}]},
          "layer": [
            {"mark": {"type": "text", "fontSize": 54, "fontWeight": "bold", "align": "right", "baseline": "alphabetic", "dx": -3, "dy": -24, "color": "#262626"},
             "encoding": {"x": {"datum": 222.5}, "y": {"datum": 12.57}, "text": {"field": "tag"}}},
            {"mark": {"type": "text", "fontSize": 49, "fontWeight": "bold", "align": "center", "baseline": "alphabetic", "dy": -20, "color": "#262626"},
             "encoding": {"x": {"datum": 635}, "y": {"datum": 12.57}, "text": {"field": "pair"}}}
          ]
        }
      ]
    },
    {
      "width": 1134, "height": 659,
      "layer": [
        {
          "transform": [{"filter": "datum.p == 'E'"}],
          "mark": "line",
          "encoding": {
            "x": {"field": "t", "type": "quantitative", "title": "Time (ns)", "scale": {"domain": [222.5, 1047.5], "nice": false, "zero": false}, "axis": {"values": [300, 400, 500, 600, 700, 800, 900, 1000], "format": "d"}},
            "y": {"field": "d", "type": "quantitative", "title": "Distance (Å)", "scale": {"domain": [2.04, 12.57], "nice": false, "zero": false}, "axis": {"values": [4, 6, 8, 10, 12], "format": "d"}},
            "color": {"field": "lab", "type": "nominal", "title": "Legend"},
            "strokeDash": {"field": "lab", "type": "nominal", "title": "Legend"},
            "strokeWidth": {"value": 4.8}
          }
        },
        {
          "data": {"values": [{"lab": "Interaction Cutoff (4.0 Å)", "d": 4}]},
          "mark": "rule",
          "encoding": {
            "y": {"field": "d", "type": "quantitative", "title": "Distance (Å)"},
            "color": {"field": "lab", "type": "nominal", "title": "Legend"},
            "strokeDash": {"value": [11, 4.5]},
            "strokeWidth": {"value": 3}
          }
        },
        {
          "data": {"values": [{"tag": "E", "pair": "ASP539 : LYS267"}]},
          "layer": [
            {"mark": {"type": "text", "fontSize": 54, "fontWeight": "bold", "align": "right", "baseline": "alphabetic", "dx": -3, "dy": -24, "color": "#262626"},
             "encoding": {"x": {"datum": 222.5}, "y": {"datum": 12.57}, "text": {"field": "tag"}}},
            {"mark": {"type": "text", "fontSize": 49, "fontWeight": "bold", "align": "center", "baseline": "alphabetic", "dy": -20, "color": "#262626"},
             "encoding": {"x": {"datum": 635}, "y": {"datum": 12.57}, "text": {"field": "pair"}}}
          ]
        }
      ]
    },
    {
      "width": 1134, "height": 659,
      "layer": [
        {
          "transform": [{"filter": "datum.p == 'F'"}],
          "mark": "line",
          "encoding": {
            "x": {"field": "t", "type": "quantitative", "title": "Time (ns)", "scale": {"domain": [222.5, 1047.5], "nice": false, "zero": false}, "axis": {"values": [300, 400, 500, 600, 700, 800, 900, 1000], "format": "d"}},
            "y": {"field": "d", "type": "quantitative", "scale": {"domain": [2.04, 12.57], "nice": false, "zero": false}, "axis": {"values": [4, 6, 8, 10, 12], "labels": false, "title": null}},
            "color": {"field": "lab", "type": "nominal", "title": "Legend"},
            "strokeDash": {"field": "lab", "type": "nominal", "title": "Legend"},
            "strokeWidth": {"value": 4.8}
          }
        },
        {
          "data": {"values": [{"lab": "Interaction Cutoff (4.0 Å)", "d": 4}]},
          "mark": "rule",
          "encoding": {
            "y": {"field": "d", "type": "quantitative", "axis": {"values": [4, 6, 8, 10, 12], "labels": false, "title": null}},
            "color": {"field": "lab", "type": "nominal", "title": "Legend"},
            "strokeDash": {"value": [11, 4.5]},
            "strokeWidth": {"value": 3}
          }
        },
        {
          "data": {"values": [{"tag": "F", "pair": "ARG542 : ASP297"}]},
          "layer": [
            {"mark": {"type": "text", "fontSize": 54, "fontWeight": "bold", "align": "right", "baseline": "alphabetic", "dx": -3, "dy": -24, "color": "#262626"},
             "encoding": {"x": {"datum": 222.5}, "y": {"datum": 12.57}, "text": {"field": "tag"}}},
            {"mark": {"type": "text", "fontSize": 49, "fontWeight": "bold", "align": "center", "baseline": "alphabetic", "dy": -20, "color": "#262626"},
             "encoding": {"x": {"datum": 635}, "y": {"datum": 12.57}, "text": {"field": "pair"}}}
          ]
        }
      ]
    },
    {
      "width": 1134, "height": 659,
      "layer": [
        {
          "transform": [{"filter": "datum.p == 'G'"}],
          "mark": "line",
          "encoding": {
            "x": {"field": "t", "type": "quantitative", "title": "Time (ns)", "scale": {"domain": [222.5, 1047.5], "nice": false, "zero": false}, "axis": {"values": [300, 400, 500, 600, 700, 800, 900, 1000], "format": "d"}},
            "y": {"field": "d", "type": "quantitative", "title": "Distance (Å)", "scale": {"domain": [2.04, 12.57], "nice": false, "zero": false}, "axis": {"values": [4, 6, 8, 10, 12], "format": "d"}},
            "color": {"field": "lab", "type": "nominal", "title": "Legend"},
            "strokeDash": {"field": "lab", "type": "nominal", "title": "Legend"},
            "strokeWidth": {"value": 4.8}
          }
        },
        {
          "data": {"values": [{"lab": "Interaction Cutoff (4.0 Å)", "d": 4}]},
          "mark": "rule",
          "encoding": {
            "y": {"field": "d", "type": "quantitative", "title": "Distance (Å)"},
            "color": {"field": "lab", "type": "nominal", "title": "Legend"},
            "strokeDash": {"value": [11, 4.5]},
            "strokeWidth": {"value": 3}
          }
        },
        {
          "data": {"values": [{"tag": "G", "pair": "ARG542 : GLU232"}]},
          "layer": [
            {"mark": {"type": "text", "fontSize": 54, "fontWeight": "bold", "align": "right", "baseline": "alphabetic", "dx": -3, "dy": -24, "color": "#262626"},
             "encoding": {"x": {"datum": 222.5}, "y": {"datum": 12.57}, "text": {"field": "tag"}}},
            {"mark": {"type": "text", "fontSize": 49, "fontWeight": "bold", "align": "center", "baseline": "alphabetic", "dy": -20, "color": "#262626"},
             "encoding": {"x": {"datum": 635}, "y": {"datum": 12.57}, "text": {"field": "pair"}}}
          ]
        }
      ]
    }
  ]
}
